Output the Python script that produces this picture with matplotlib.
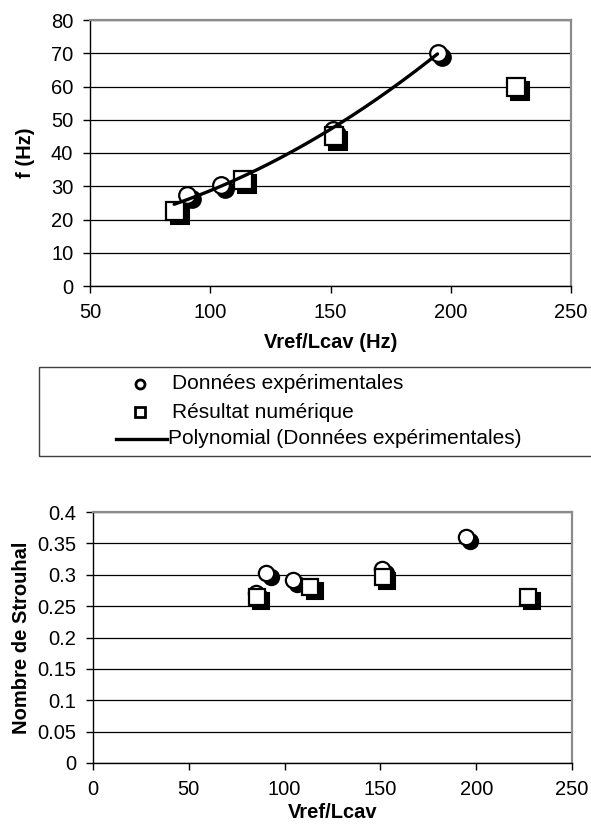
import numpy as np
import matplotlib
matplotlib.use("Agg")
import matplotlib.pyplot as plt
from matplotlib.lines import Line2D
from matplotlib.patches import Rectangle
from matplotlib.transforms import offset_copy

plt.rcParams['font.family'] = ['Liberation Sans', 'DejaVu Sans']

# ---- data ----
exp_x = [85, 90.5, 104.5, 151, 194.5]
exp_f = [23, 27.5, 30.5, 47, 70]
num_x = [85.5, 113.5, 151.5, 227]
num_f = [22.5, 32, 45, 60]

exp_st = [0.2716, 0.3034, 0.2923, 0.3098, 0.3607]
num_st = [0.265, 0.281, 0.2966, 0.265]

top_xticks = [50, 100, 150, 200, 250]
top_yticks = [0, 10, 20, 30, 40, 50, 60, 70, 80]
bot_xticks = [0, 50, 100, 150, 200, 250]
bot_yticks = [0, 0.05, 0.1, 0.15, 0.2, 0.25, 0.3, 0.35, 0.4]
bot_ylabels = ["0", "0.05", "0.1", "0.15", "0.2", "0.25", "0.3", "0.35", "0.4"]

legend_labels = ["Données expérimentales", "Résultat numérique",
                 "Polynomial (Données expérimentales)"]

W, H = 591, 827
fig = plt.figure(figsize=(W / 100, H / 100), dpi=100)

def px_axes(l, t, r, b):
    return fig.add_axes([l / W, 1 - b / H, (r - l) / W, (b - t) / H])

TICK_FS = 14.5
LAB_FS = 14.5

def style_axes(ax):
    for side in ('left', 'bottom'):
        ax.spines[side].set_color('black')
        ax.spines[side].set_linewidth(1.0)
    for side in ('top', 'right'):
        ax.spines[side].set_color('#8c8c8c')
        ax.spines[side].set_linewidth(1.6)
    ax.tick_params(axis='both', direction='out', length=5, width=1.0,
                   labelsize=TICK_FS, colors='black')
    ax.tick_params(axis='x', pad=7)
    ax.tick_params(axis='y', pad=7)
    ax.yaxis.grid(True, color='black', linewidth=0.9)
    ax.set_axisbelow(True)

def scatter_shadow(ax, x, y, marker, ms, z):
    sh = offset_copy(ax.transData, fig=fig, x=3, y=-3, units='points')
    ax.plot(x, y, linestyle='none', marker=marker, ms=ms, mfc='black',
            mec='black', mew=1.5, transform=sh, zorder=z, clip_on=False)
    ax.plot(x, y, linestyle='none', marker=marker, ms=ms, mfc='white',
            mec='black', mew=1.6, zorder=z + 0.1, clip_on=False)

# ---- top chart ----
ax1 = px_axes(90, 20, 571, 286)
style_axes(ax1)
ax1.set_xlim(50, 250)
ax1.set_ylim(0, 80)
ax1.set_xticks(top_xticks)
ax1.set_yticks(top_yticks)
scatter_shadow(ax1, exp_x, exp_f, 'o', 12, 3)
scatter_shadow(ax1, num_x, num_f, 's', 13.5, 4)
coef = np.polyfit(exp_x, exp_f, 2)
xx = np.linspace(min(exp_x), max(exp_x), 200)
ax1.plot(xx, np.polyval(coef, xx), color='black', lw=2.4, zorder=6,
         solid_capstyle='round')
ax1.set_xlabel("Vref/Lcav (Hz)", fontsize=LAB_FS, fontweight='bold')
ax1.set_ylabel("f (Hz)", fontsize=LAB_FS, fontweight='bold')
ax1.xaxis.set_label_coords(0.5, (286 - 343) / 266)
ax1.xaxis.label.set_va('center')
ax1.yaxis.set_label_coords((25 - 90) / 481, 0.5)
ax1.yaxis.label.set_va('center')

# ---- legend (manual) ----
fig.add_artist(Rectangle((39 / W, 1 - 456 / H), 1.0, 89 / H,
                         transform=fig.transFigure, fill=False,
                         edgecolor='#404040', linewidth=1.0, clip_on=False))
fig.add_artist(Line2D([140 / W], [1 - 384 / H], transform=fig.transFigure,
                      marker='o', ms=6.5, mfc='white', mec='black', mew=2.0,
                      linestyle='none'))
fig.add_artist(Line2D([140 / W], [1 - 412 / H], transform=fig.transFigure,
                      marker='s', ms=7, mfc='white', mec='black', mew=2.0,
                      linestyle='none'))
fig.add_artist(Line2D([116 / W, 167 / W], [1 - 439 / H, 1 - 439 / H],
                      transform=fig.transFigure, color='black', lw=2.4))
fig.text(172 / W, 1 - 384 / H, legend_labels[0], fontsize=15, va='center', ha='left')
fig.text(172 / W, 1 - 412 / H, legend_labels[1], fontsize=15, va='center', ha='left')
fig.text(168 / W, 1 - 439 / H, legend_labels[2], fontsize=15, va='center', ha='left')

# ---- bottom chart ----
ax2 = px_axes(93, 512, 572, 763)
style_axes(ax2)
ax2.set_xlim(0, 250)
ax2.set_ylim(0, 0.4)
ax2.set_xticks(bot_xticks)
ax2.set_yticks(bot_yticks)
ax2.set_yticklabels(bot_ylabels)
scatter_shadow(ax2, exp_x, exp_st, 'o', 11, 3)
scatter_shadow(ax2, num_x, num_st, 's', 12, 4)
ax2.set_xlabel("Vref/Lcav", fontsize=LAB_FS, fontweight='bold')
ax2.set_ylabel("Nombre de Strouhal", fontsize=LAB_FS, fontweight='bold')
ax2.xaxis.set_label_coords(0.5, (763 - 813) / 251)
ax2.xaxis.label.set_va('center')
ax2.yaxis.set_label_coords((22 - 93) / 479, 0.5)
ax2.yaxis.label.set_va('center')

fig.savefig("out.png", dpi=100)
